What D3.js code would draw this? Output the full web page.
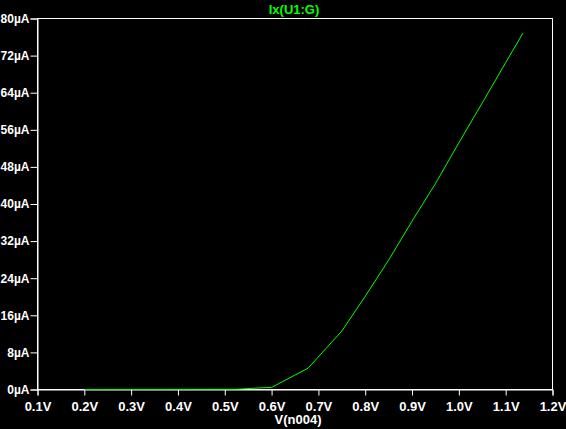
<!DOCTYPE html>
<html>
<head>
<meta charset="utf-8">
<script src="https://cdn.jsdelivr.net/npm/d3@7"></script>
<style>
  body { margin: 0; background: #000; }
  svg { display: block; }
  text { font-family: "Liberation Sans", Arial, sans-serif; font-weight: bold; font-size: 13px; }
</style>
</head>
<body>
<div id="chart"></div>
<script>
// sweep voltage V(n004) and gate current Ix(U1:G) in µA
var volts   = [0.2, 0.525, 0.575, 0.6,  0.678, 0.75, 0.8,  0.85, 0.9,  0.95, 1.0,  1.05, 1.1,  1.137];
var current = [0,   0.05,  0.35,  0.45, 4.6,   12.6, 20.1, 27.9, 36.3, 44.4, 53.2, 61.8, 70.5, 76.85];
var xTicks = [0.1, 0.2, 0.3, 0.4, 0.5, 0.6, 0.7, 0.8, 0.9, 1.0, 1.1, 1.2];
var yTicks = [0, 8, 16, 24, 32, 40, 48, 56, 64, 72, 80];

var width = 566, height = 429;
var svg = d3.select("#chart").append("svg")
    .attr("width", width)
    .attr("height", height);

var g = svg.append("g").attr("transform", "translate(0.5,0.5)");

var x = d3.scaleLinear().domain([0.1, 1.2]).range([37, 552]);
var y = d3.scaleLinear().domain([0, 80]).range([389, 18]);

// frame
g.append("rect")
    .attr("x", x(0.1)).attr("y", y(80))
    .attr("width", x(1.2) - x(0.1)).attr("height", y(0) - y(80))
    .attr("fill", "none").attr("stroke", "#fff");

var yAxis = g.append("g")
    .attr("transform", "translate(" + x(0.1) + ",0)")
    .call(d3.axisLeft(y).tickValues(yTicks).tickSize(7).tickPadding(1)
      .tickFormat(function(d) { return d + "µA"; }));

var xAxis = g.append("g")
    .attr("transform", "translate(0," + y(0) + ")")
    .call(d3.axisBottom(x).tickValues(xTicks).tickSize(6).tickPadding(6)
      .tickFormat(function(d) { return d.toFixed(1) + "V"; }));

[xAxis, yAxis].forEach(function(a) {
  a.select(".domain").attr("stroke", "#fff");
  a.selectAll(".tick line").attr("stroke", "#fff");
  a.selectAll(".tick text")
      .attr("fill", "#fff")
      .style("font-family", "'Liberation Sans', Arial, sans-serif")
      .style("font-weight", "bold")
      .style("font-size", "13px");
});
// y labels are a touch narrower in the original so they fit the left edge
yAxis.selectAll(".tick text").style("font-size", "12px");

// trace
var line = d3.line()
    .x(function(d, i) { return x(volts[i]); })
    .y(function(d) { return y(d); });

g.append("path")
    .datum(current)
    .attr("d", line)
    .attr("fill", "none")
    .attr("stroke", "#00ff00")
    .attr("stroke-width", 1);

// titles
svg.append("text")
    .attr("x", 294).attr("y", 14)
    .attr("text-anchor", "middle")
    .attr("fill", "#00ff00")
    .text("Ix(U1:G)");

svg.append("text")
    .attr("x", 298).attr("y", 424)
    .attr("text-anchor", "middle")
    .attr("fill", "#fff")
    .text("V(n004)");
</script>
</body>
</html>
